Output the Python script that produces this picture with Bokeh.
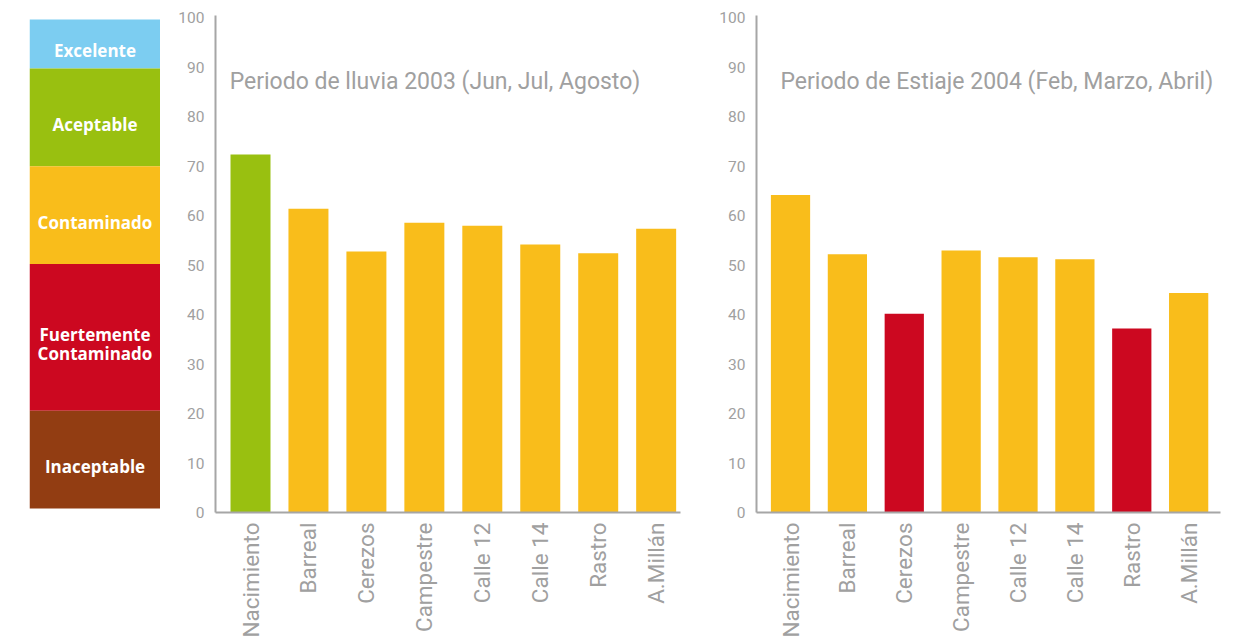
import math
from bokeh.plotting import figure
from bokeh.layouts import row
from bokeh.models import Range1d, FixedTicker, Label, ColumnDataSource
from bokeh.core.properties import value
from bokeh.embed import file_html
from bokeh.resources import INLINE

# ---------------- data ----------------
stations = ["Nacimiento", "Barreal", "Cerezos", "Campestre", "Calle 12", "Calle 14", "Rastro", "A.Millán"]
rain_2003 = [72.4, 61.4, 52.8, 58.6, 58.0, 54.2, 52.4, 57.4]
dry_2004 = [64.2, 52.2, 40.2, 53.0, 51.6, 51.2, 37.2, 44.4]
rain_class = ["Aceptable", "Contaminado", "Contaminado", "Contaminado",
              "Contaminado", "Contaminado", "Contaminado", "Contaminado"]
dry_class = ["Contaminado", "Contaminado", "Fuertemente Contaminado", "Contaminado",
             "Contaminado", "Contaminado", "Fuertemente Contaminado", "Contaminado"]
bands = ["Excelente", "Aceptable", "Contaminado", "Fuertemente Contaminado", "Inaceptable"]
band_lo = [90, 70, 50, 20, 0]
band_hi = [100, 90, 70, 50, 20]
y_ticks = [0, 10, 20, 30, 40, 50, 60, 70, 80, 90, 100]
title_rain = "Periodo de lluvia 2003 (Jun, Jul, Agosto)"
title_dry = "Periodo de Estiaje 2004 (Feb, Marzo, Abril)"

# ---------------- style ----------------
band_colors = {
    "Excelente": "#7CCDF1",
    "Aceptable": "#99C010",
    "Contaminado": "#F9BD1B",
    "Fuertemente Contaminado": "#CC0820",
    "Inaceptable": "#923D12",
}
GREY = "#a0a0a0"
AXIS_GREY = "#a6a6a6"
FONT = "Roboto"
H = 640
TOP = 15          # frame top (all frames in the row are aligned)
BOTTOM = H - 512  # border below the frames

# ---------------- legend (quality scale) ----------------
leg = figure(width=160, height=H, output_backend="svg", toolbar_location=None,
             x_range=Range1d(0, 1), y_range=Range1d(-0.82, 100.82),
             min_border_left=29, min_border_right=0,
             min_border_top=TOP, min_border_bottom=BOTTOM)
leg_src = ColumnDataSource(dict(
    lo=band_lo, hi=band_hi,
    mid=[(a + b) / 2 for a, b in zip(band_lo, band_hi)],
    color=[band_colors[b] for b in bands],
    label=[b.replace(" ", "\n") for b in bands],
))
leg.quad(left=0, right=1, bottom="lo", top="hi", fill_color="color",
         line_color=None, source=leg_src)
leg.text(x=0.5, y="mid", text="label", source=leg_src, text_align="center",
         text_baseline="middle", y_offset=7, text_color="white",
         text_font=value("Open Sans"), text_font_style="bold",
         text_font_size="17px", text_line_height=0.82)
leg.axis.visible = False
leg.grid.visible = False
leg.outline_line_color = None


def bar_chart(values, classes, title, width, mb_left, mb_right,
              x_start, x_end, title_x, title_y):
    idx = list(range(len(stations)))
    p = figure(width=width, height=H, output_backend="svg", toolbar_location=None,
               x_range=Range1d(x_start, x_end), y_range=Range1d(0, 100.5),
               min_border_left=mb_left, min_border_right=mb_right,
               min_border_top=TOP, min_border_bottom=BOTTOM)
    src = ColumnDataSource(dict(x=idx, top=values,
                                color=[band_colors[c] for c in classes]))
    p.vbar(x="x", top="top", bottom=0, width=0.69, fill_color="color",
           line_color=None, source=src)
    p.grid.visible = False
    p.outline_line_color = None
    for ax in (p.xaxis[0], p.yaxis[0]):
        ax.axis_line_color = AXIS_GREY
        ax.axis_line_width = 2
        ax.major_tick_line_color = None
        ax.minor_tick_line_color = None
        ax.major_label_text_color = GREY
        ax.major_label_text_font = FONT
    p.yaxis.ticker = FixedTicker(ticks=y_ticks)
    p.yaxis.major_label_text_font_size = "15.5px"
    p.yaxis.major_label_standoff = 5
    p.xaxis.ticker = FixedTicker(ticks=idx)
    p.xaxis.major_label_overrides = {i: s for i, s in zip(idx, stations)}
    p.xaxis.major_label_orientation = math.pi / 2
    p.xaxis.major_label_text_font_size = "22.5px"
    p.xaxis.major_label_standoff = 4
    p.add_layout(Label(x=title_x, y=title_y, text=title, text_color=GREY,
                       text_font=FONT, text_font_size="23px",
                       text_baseline="middle", text_align="left"))
    return p


p1 = bar_chart(rain_2003, rain_class, title_rain, 551, 55, 31,
               -0.604, 7.42, -0.36, 87.2)
p2 = bar_chart(dry_2004, dry_class, title_dry, 533, 45, 24,
               -0.598, 7.56, -0.176, 87.2)

layout = row(leg, p1, p2)
open("out.html", "w").write(file_html(layout, INLINE))
